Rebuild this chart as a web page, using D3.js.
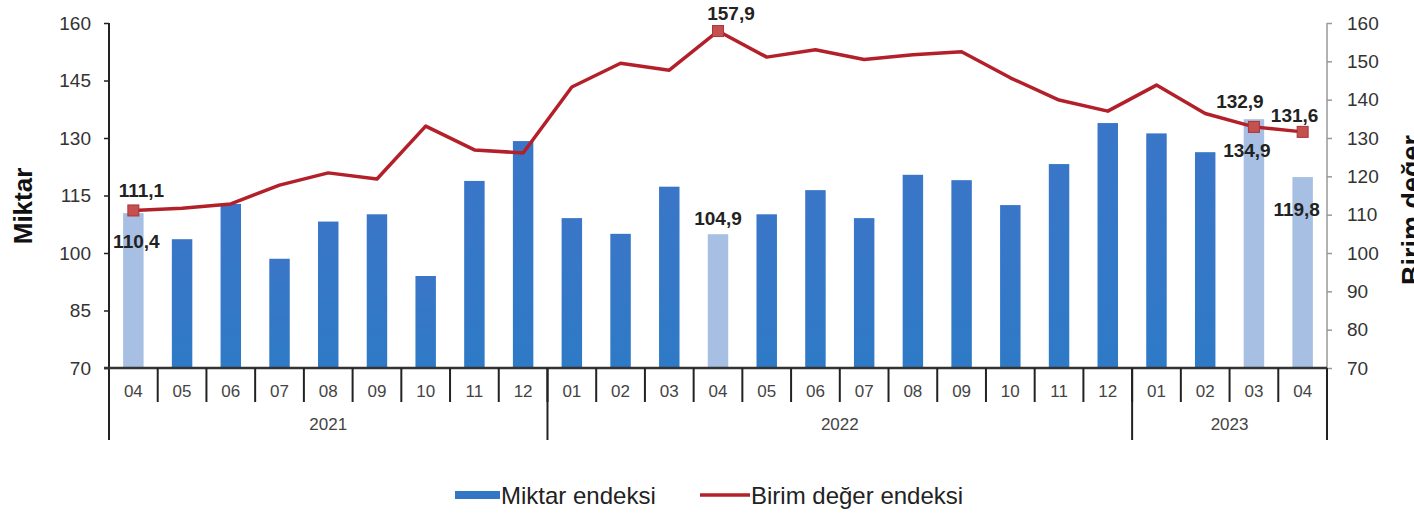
<!DOCTYPE html>
<html>
<head>
<meta charset="utf-8">
<script src="https://cdn.jsdelivr.net/npm/d3@7"></script>
<style>
  body { margin: 0; background: #fff; }
  svg { display: block; font-family: "Liberation Sans", Arial, sans-serif; }
</style>
</head>
<body>
<svg id="chart" width="1414" height="513"></svg>
<script>
// months along the x axis, grouped by year
var months = ['04','05','06','07','08','09','10','11','12',
              '01','02','03','04','05','06','07','08','09','10','11','12',
              '01','02','03','04']
var years = ['2021', '2022', '2023']
var yearCounts = [9, 12, 4]

// Miktar endeksi (bars)
var miktar = [110.4, 103.6, 112.8, 98.5, 108.2, 110.1, 94.0, 118.8, 129.2,
              109.1, 105.0, 117.3, 104.9, 110.1, 116.4, 109.1, 120.4, 119.0, 112.5, 123.2, 133.9,
              131.2, 126.3, 134.9, 119.8]

// Birim değer endeksi (line)
var birim = [111.1, 111.7, 112.8, 117.7, 120.9, 119.3, 133.1, 126.9, 126.1,
             143.3, 149.5, 147.7, 157.9, 151.1, 153.0, 150.5, 151.7, 152.5, 145.7, 139.9, 137.0,
             143.8, 136.4, 132.9, 131.6]

var leftTicks = [70, 85, 100, 115, 130, 145, 160]
var rightTicks = [70, 80, 90, 100, 110, 120, 130, 140, 150, 160]

// highlighted months (light bars, markers on the line)
var highlighted = [0, 12, 23, 24]

var svg = d3.select('#chart')
var margin = {top: 23, right: 87, bottom: 145, left: 109}
var width = 1414 - margin.left - margin.right
var height = 513 - margin.top - margin.bottom

var g = svg.append('g')
  .attr('transform', 'translate(' + margin.left + ',' + margin.top + ')')

var x = d3.scaleBand()
  .domain(d3.range(months.length))
  .range([0, width])
  .paddingInner(0.58)
  .paddingOuter(0.29)

var step = x.step()

var yL = d3.scaleLinear().domain([70, 160]).range([height, 0])
var yR = d3.scaleLinear().domain([70, 160]).range([height, 0])

var fmt = function (v) { return v.toFixed(1).replace('.', ',') }

// bars
var grad = svg.append('defs').append('linearGradient')
  .attr('id', 'barGrad').attr('x1', 0).attr('x2', 0).attr('y1', 0).attr('y2', 1)
grad.append('stop').attr('offset', '0%').attr('stop-color', '#3a76c8')
grad.append('stop').attr('offset', '100%').attr('stop-color', '#2e7ac6')

g.selectAll('.bar')
    .data(miktar)
  .enter().append('rect')
    .attr('class', 'bar')
    .attr('x', function (d, i) { return x(i) })
    .attr('width', x.bandwidth())
    .attr('y', function (d) { return yL(d) })
    .attr('height', function (d) { return height - yL(d) })
    .attr('fill', function (d, i) { return highlighted.indexOf(i) >= 0 ? '#a6bfe3' : 'url(#barGrad)' })

// left axis
var axL = g.append('g')
  .call(d3.axisLeft(yL).tickValues(leftTicks).tickSize(5).tickPadding(13).tickFormat(d3.format('d')))
axL.select('.domain').remove()
axL.selectAll('.tick line').attr('stroke', '#222').attr('stroke-width', 1.5)
axL.selectAll('text').attr('font-size', 19).attr('fill', '#333')
g.append('line')
  .attr('x1', 0).attr('x2', 0).attr('y1', 0).attr('y2', height + 72)
  .attr('stroke', '#222').attr('stroke-width', 2)

// right axis
var axR = g.append('g')
  .attr('transform', 'translate(' + width + ',0)')
  .call(d3.axisRight(yR).tickValues(rightTicks).tickSize(5).tickPadding(15).tickFormat(d3.format('d')))
axR.select('.domain').remove()
axR.selectAll('.tick line').attr('stroke', '#999').attr('stroke-width', 1.5)
axR.selectAll('text').attr('font-size', 19).attr('fill', '#333')
g.append('line')
  .attr('x1', width).attr('x2', width).attr('y1', 0).attr('y2', height)
  .attr('stroke', '#999').attr('stroke-width', 1.5)
g.append('line')
  .attr('x1', width).attr('x2', width).attr('y1', height).attr('y2', height + 72)
  .attr('stroke', '#222').attr('stroke-width', 2)

// x axis baseline
g.append('line')
  .attr('x1', -5).attr('x2', width).attr('y1', height).attr('y2', height)
  .attr('stroke', '#333').attr('stroke-width', 2.5)

// month separators
var bounds = d3.range(1, months.length)
g.selectAll('.sep')
    .data(bounds)
  .enter().append('line')
    .attr('x1', function (i) { return x(i) - step * x.paddingInner() / 2 })
    .attr('x2', function (i) { return x(i) - step * x.paddingInner() / 2 })
    .attr('y1', height)
    .attr('y2', height + 34)
    .attr('stroke', '#222').attr('stroke-width', 2)

// month labels
g.selectAll('.month')
    .data(months)
  .enter().append('text')
    .attr('x', function (d, i) { return x(i) + x.bandwidth() / 2 })
    .attr('y', height + 29)
    .attr('text-anchor', 'middle')
    .attr('font-size', 17)
    .attr('fill', '#444')
    .text(function (d) { return d })

// year separators and labels
var yearStart = 0
years.forEach(function (yr, k) {
  var x0 = yearStart * step
  var x1 = (yearStart + yearCounts[k]) * step
  if (k > 0) {
    g.append('line')
      .attr('x1', x0).attr('x2', x0).attr('y1', height).attr('y2', height + 72)
      .attr('stroke', '#222').attr('stroke-width', 2)
  }
  g.append('text')
    .attr('x', (x0 + x1) / 2)
    .attr('y', height + 62)
    .attr('text-anchor', 'middle')
    .attr('font-size', 17)
    .attr('fill', '#444')
    .text(yr)
  yearStart += yearCounts[k]
})

// line
var line = d3.line()
  .x(function (d, i) { return x(i) + x.bandwidth() / 2 })
  .y(function (d) { return yR(d) })

g.append('path')
  .datum(birim)
  .attr('fill', 'none')
  .attr('stroke', '#b3202a')
  .attr('stroke-width', 3.5)
  .attr('stroke-linejoin', 'round')
  .attr('d', line)

g.selectAll('.marker')
    .data(highlighted)
  .enter().append('rect')
    .attr('x', function (i) { return x(i) + x.bandwidth() / 2 - 5.5 })
    .attr('y', function (i) { return yR(birim[i]) - 5.5 })
    .attr('width', 11).attr('height', 11)
    .attr('fill', '#c4504f')
    .attr('stroke', '#a8353a').attr('stroke-width', 1)

// value labels (offsets from the mark, in px)
var lineLabelOffset = {0: [8, -13], 12: [13, -11], 23: [-14, -19], 24: [-8, -10]}
var barLabelOffset = {0: [3, 35], 12: [0, -9], 23: [-7, 38], 24: [-6, 39]}

highlighted.forEach(function (i) {
  var cx = x(i) + x.bandwidth() / 2
  var lo = lineLabelOffset[i]
  g.append('text')
    .attr('x', cx + lo[0]).attr('y', yR(birim[i]) + lo[1])
    .attr('text-anchor', 'middle')
    .attr('font-size', 19).attr('font-weight', 'bold').attr('fill', '#222')
    .text(fmt(birim[i]))
  var bo = barLabelOffset[i]
  g.append('text')
    .attr('x', cx + bo[0]).attr('y', yL(miktar[i]) + bo[1])
    .attr('text-anchor', 'middle')
    .attr('font-size', 19).attr('font-weight', 'bold').attr('fill', '#222')
    .text(fmt(miktar[i]))
})

// axis titles
svg.append('text')
  .attr('transform', 'translate(32,206) rotate(-90)')
  .attr('text-anchor', 'middle')
  .attr('font-size', 26).attr('font-weight', 'bold').attr('fill', '#111')
  .text('Miktar')

svg.append('text')
  .attr('transform', 'translate(1421,285) rotate(-90)')
  .attr('text-anchor', 'start')
  .attr('font-size', 27).attr('font-weight', 'bold').attr('fill', '#111')
  .text('Birim değer')

// legend
var legend = svg.append('g')
legend.append('rect')
  .attr('x', 455).attr('y', 491).attr('width', 45).attr('height', 8)
  .attr('fill', '#3476c6')
legend.append('text')
  .attr('x', 501).attr('y', 504)
  .attr('font-size', 24).attr('fill', '#222')
  .text('Miktar endeksi')
legend.append('line')
  .attr('x1', 700).attr('x2', 750).attr('y1', 495).attr('y2', 495)
  .attr('stroke', '#b3202a').attr('stroke-width', 3.5)
legend.append('text')
  .attr('x', 751).attr('y', 504)
  .attr('font-size', 24).attr('fill', '#222')
  .text('Birim değer endeksi')
</script>
</body>
</html>
